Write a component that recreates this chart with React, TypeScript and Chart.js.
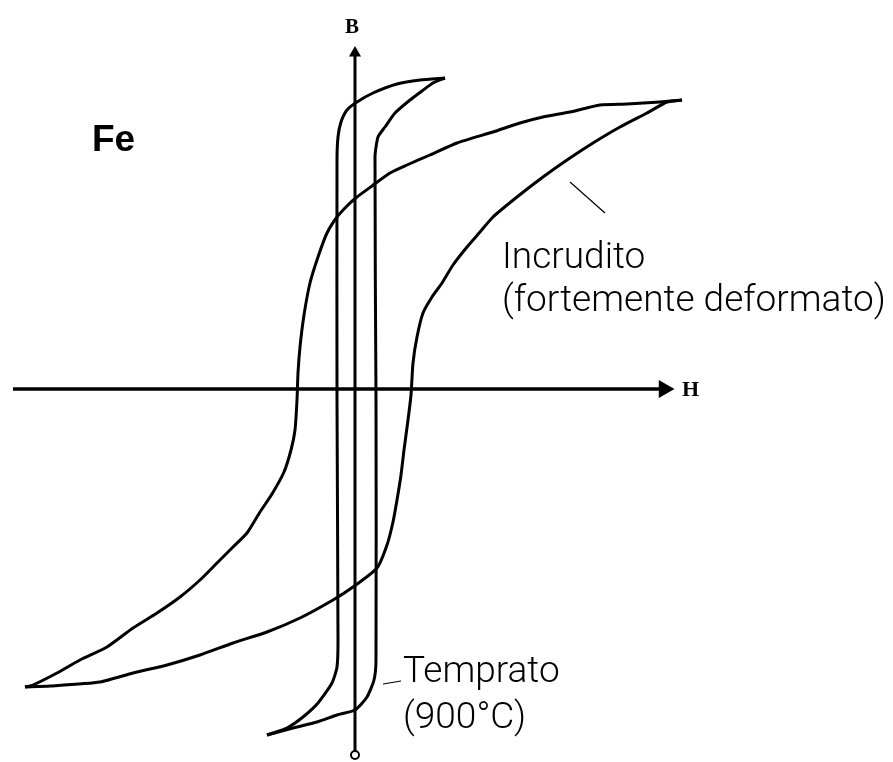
import React, { useEffect, useRef } from "react";
import { Chart, registerables } from "chart.js";

Chart.register(...registerables);

// Hysteresis loops of iron, [H, B] in arbitrary units (origin at the axes crossing)
const incruditoDown: [number, number][] = [
  [32.7, 28.9], [30.5, 28.7], [27.2, 28.5], [24.5, 28.4], [21.5, 27.7], [18.8, 27.2],
  [16.5, 26.6], [13.8, 25.7], [10.2, 24.6], [7.5, 23.4], [5.2, 22.4], [3.5, 21.6],
  [1.7, 20.3], [0.2, 19.2], [-0.7, 18.4], [-1.8, 17.2], [-2.8, 15.6], [-3.7, 13.2],
  [-4.5, 10.6], [-5.1, 7.4], [-5.5, 4.2], [-5.7, 1.6], [-5.8, -1.1], [-6.0, -4.1],
  [-6.4, -6.1], [-7.1, -8.3], [-8.3, -10.5], [-9.5, -12.3], [-10.8, -14.4], [-12.2, -15.8],
  [-13.8, -17.4], [-15.5, -19.1], [-17.5, -20.8], [-19.8, -22.4], [-22.2, -23.9],
  [-24.8, -25.8], [-27.5, -27.1], [-29.8, -28.4], [-32.2, -29.6], [-33.0, -29.8],
];
const incruditoUp: [number, number][] = [
  [-33.0, -29.8], [-30.5, -29.7], [-25.5, -29.3], [-22.2, -28.4], [-18.8, -27.6],
  [-15.5, -26.6], [-12.2, -25.4], [-8.8, -24.3], [-5.5, -22.9], [-2.2, -21.1],
  [-0.2, -19.8], [2.2, -17.9], [3.2, -15.6], [3.8, -13.3], [4.2, -11.1], [4.6, -8.6],
  [4.9, -6.1], [5.3, -3.1], [5.6, -0.6], [5.8, 2.6], [6.2, 5.2], [6.8, 7.6], [7.7, 9.2],
  [8.7, 10.6], [9.8, 12.4], [11.2, 14.2], [12.5, 15.7], [13.8, 17.2], [16.2, 19.2],
  [18.8, 21.2], [21.2, 22.9], [23.8, 24.6], [26.5, 26.2], [29.2, 27.6], [31.2, 28.7],
  [32.7, 28.9],
];
const tempratoDown: [number, number][] = [
  [9.0, 31.1], [6.5, 30.9], [4.2, 30.5], [1.8, 29.6], [0.2, 28.7], [-0.8, 27.9],
  [-1.4, 26.7], [-1.7, 25.2], [-1.8, 22.9], [-1.8, -1.1], [-1.7, -25.1], [-1.8, -27.8],
  [-2.3, -29.4], [-3.7, -31.4], [-5.2, -32.8], [-6.8, -33.9], [-8.2, -34.4], [-8.8, -34.6],
];
const tempratoUp: [number, number][] = [
  [-8.8, -34.6], [-6.2, -33.9], [-3.8, -33.3], [-1.8, -32.6], [0.0, -32.1], [1.2, -30.8],
  [1.9, -29.1], [2.1, -27.1], [2.1, -1.1], [2.0, 23.2], [2.3, 25.2], [3.0, 26.2],
  [4.0, 27.6], [5.5, 28.9], [6.7, 29.8], [7.8, 30.6], [9.0, 31.1],
];

// Axes extents and label leader lines
const hAxisRange: [number, number] = [-34.2, 30.9];
const bAxisRange: [number, number] = [-36.6, 33.6];
const incruditoLeader: [number, number][] = [[21.5, 20.7], [25.0, 17.6]];
const tempratoLeader: [number, number][] = [[2.8, -29.5], [4.6, -29.2]];

// Visible view window
const hView: [number, number] = [-35.5, 53.8];
const bView: [number, number] = [-37.3, 38.9];

const TXT = "300 37px Roboto, 'Liberation Sans', Arial, sans-serif";

type Label = { text: string; h: number; b: number; font: string; align: CanvasTextAlign; base: CanvasTextBaseline };
const LABELS: Label[] = [
  { text: "Fe", h: -26.3, b: 23.8, font: "bold 37px 'Liberation Sans', Arial, sans-serif", align: "left", base: "alphabetic" },
  { text: "B", h: -0.3, b: 35.6, font: "bold 21px 'Liberation Serif', serif", align: "center", base: "alphabetic" },
  { text: "H", h: 32.7, b: -0.1, font: "bold 22px 'Liberation Serif', serif", align: "left", base: "middle" },
  { text: "Incrudito", h: 14.7, b: 12.1, font: TXT, align: "left", base: "alphabetic" },
  { text: "(fortemente deformato)", h: 14.7, b: 7.8, font: TXT, align: "left", base: "alphabetic" },
  { text: "Temprato", h: 4.8, b: -29.3, font: TXT, align: "left", base: "alphabetic" },
  { text: "(900°C)", h: 4.8, b: -33.9, font: TXT, align: "left", base: "alphabetic" },
];

const toPts = (arr: [number, number][]) => arr.map(([x, y]) => ({ x, y }));

const labelPlugin = {
  id: "textLabels",
  afterDatasetsDraw(chart: any) {
    const { ctx, scales } = chart;
    ctx.save();
    ctx.fillStyle = "#000";
    for (const l of LABELS) {
      ctx.font = l.font;
      ctx.textAlign = l.align;
      ctx.textBaseline = l.base;
      ctx.fillText(l.text, scales.x.getPixelForValue(l.h), scales.y.getPixelForValue(l.b));
    }
    ctx.restore();
  },
};

export default function App() {
  const ref = useRef<HTMLCanvasElement | null>(null);
  useEffect(() => {
    if (!ref.current) return;
    const line = (data: [number, number][], width: number, extra: any = {}) => ({
      data: toPts(data),
      showLine: true,
      borderColor: "#000",
      backgroundColor: "#000",
      borderWidth: width,
      pointRadius: 0,
      tension: 0.2,
      fill: false,
      clip: false,
      ...extra,
    });
    const chart = new Chart(ref.current, {
      type: "scatter",
      data: {
        datasets: [
          line(incruditoDown, 3),
          line(incruditoUp, 3),
          line(tempratoDown, 3),
          line(tempratoUp, 3),
          line([[hAxisRange[0], 0], [hAxisRange[1], 0]], 3.5, {
            tension: 0,
            pointRadius: [0, 7],
            pointStyle: "triangle",
            pointRotation: 90,
          }),
          line([[0, bAxisRange[0]], [0, bAxisRange[1]]], 3, {
            tension: 0,
            pointRadius: [4, 5],
            pointStyle: ["circle", "triangle"],
            pointBackgroundColor: ["#fff", "#000"],
            pointBorderColor: "#000",
            pointBorderWidth: 2,
          }),
          line(incruditoLeader, 1.2, { tension: 0 }),
          line(tempratoLeader, 1.2, { tension: 0 }),
        ],
      },
      options: {
        animation: false,
        responsive: false,
        devicePixelRatio: 1,
        events: [],
        layout: { padding: 0, autoPadding: false },
        plugins: { legend: { display: false }, tooltip: { enabled: false } },
        scales: {
          x: { type: "linear", min: hView[0], max: hView[1], display: false },
          y: { type: "linear", min: bView[0], max: bView[1], display: false },
        },
      },
      plugins: [labelPlugin],
    });
    return () => chart.destroy();
  }, []);
  return (
    <div style={{ position: "absolute", left: 0, top: 0, width: 893, height: 762, background: "#fff" }}>
      <canvas ref={ref} width={893} height={762} style={{ display: "block" }} />
    </div>
  );
}
